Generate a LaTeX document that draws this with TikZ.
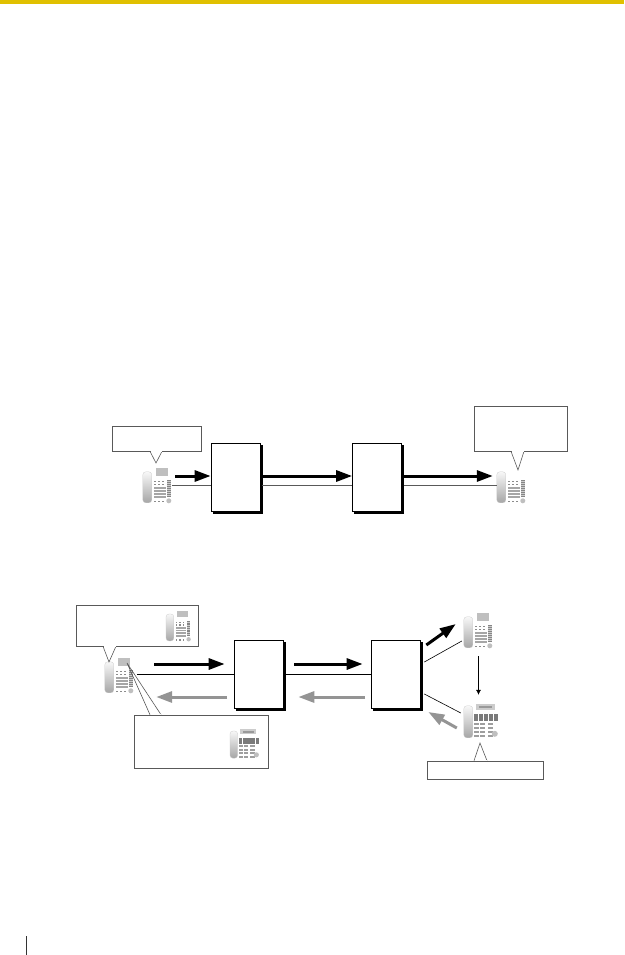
\documentclass[tikz,border=0pt]{standalone}
\usepackage{tikz}
\usetikzlibrary{arrows.meta,shadows}

\definecolor{topbar}{RGB}{224,192,0}

\tikzset{
    exchange/.style={draw=black, fill=white, line width=.7pt, minimum width=49pt, minimum height=68pt,
        inner sep=0pt, copy shadow={shadow xshift=2pt, shadow yshift=-2pt, fill=black, draw=black}},
    bubble/.style={draw=black!65, fill=white, line width=.6pt, inner sep=0pt},
    tail/.style={draw=black!65, line width=.6pt},
    phonespot/.style={inner sep=0pt, minimum width=29pt, minimum height=31pt},
    wire/.style={draw=black!65, line width=1pt},
    thinwire/.style={draw=black, line width=.6pt},
    sendarrow/.style={-{Triangle[length=16pt,width=11pt]}, line width=3pt, black},
    backarrow/.style={-{Triangle[length=16pt,width=11pt]}, line width=3pt, black!42},
    phonebase/.pic={
        \draw[draw=black!20, top color=black!3, bottom color=black!35, rounded corners=3pt, line width=.3pt] (0,0) rectangle (9,31);
        \foreach \row in {9,12,29}
            \foreach \col in {11,15,19}
                \fill[black!45] (\col,\row) rectangle ++(2.2,1.5);
        \foreach \row in {15,18,21,24}
            \foreach \col in {11,15.2,19.4}
                \fill[black!35] (\col,\row) rectangle ++(3.8,2);
        \fill[black!20] (24,8) rectangle (28,25);
        \foreach \row in {8,10,...,24}
            \fill[black!48] (24,\row) rectangle ++(4,1.2);
        \fill[black!25] (26,29) circle (2.5);
    },
    phonescreen/.pic={
        \fill[black!25] (13,-4) rectangle (25,4);
    },
    bigphone/.pic={
        \draw[draw=black!20, top color=black!3, bottom color=black!35, rounded corners=3pt, line width=.3pt] (0,0) rectangle (9,32);
        \fill[black!20] (12,-2) rectangle (31,4);
        \fill[black!40] (15,0) rectangle (28,2);
        \foreach \col in {10,15,...,30}
            \fill[black!52] (\col,8) rectangle ++(4.5,7);
        \foreach \row in {17,21,25,29}
            \foreach \col in {10,16,24}
                \fill[black!38] (\col,\row) rectangle ++(5.4,2.2);
        \fill[black!25] (31,28) circle (3);
    }
}

\begin{document}
\begin{tikzpicture}[x=1pt,y=-1pt]
\useasboundingbox (0,0) rectangle (624,955);
\fill[topbar] (0,0) rectangle (624,4);
\draw[black!80, line width=.8pt] (26,936) -- (26,955);

% upper diagram
\node[exchange] (boxA) at (235.5,477) {};
\node[exchange] (boxB) at (377,477) {};
\node[phonespot] (phoneA) at (157.5,487.5) {};
\node[phonespot] (phoneB) at (511.5,487.5) {};
\pic at (phoneA.north west) {phonebase};
\pic at (phoneA.north west) {phonescreen};
\pic at (phoneB.north west) {phonebase};

\draw[wire] ([yshift=2.5pt]phoneA.east) -- ([yshift=-8pt]boxA.west);
\draw[wire] ([xshift=2pt,yshift=-8pt]boxA.east) -- ([yshift=-8pt]boxB.west);
\draw[wire] ([xshift=2pt,yshift=-8pt]boxB.east) -- ([yshift=2.5pt]phoneB.west);

\coordinate (sendA) at (175,476);
\draw[sendarrow] (sendA) -- ([yshift=1pt]boxA.west);
\draw[sendarrow] ([xshift=2pt,yshift=1pt]boxA.east) -- ([yshift=1pt]boxB.west);
\draw[sendarrow] ([xshift=2pt,yshift=1pt]boxB.east) -- ([xshift=-4pt,yshift=11.5pt]phoneB.west);

\node[bubble, minimum width=89pt, minimum height=25pt] (bubA) at (156.5,438.5) {};
\coordinate (tipA) at (156,463);
\draw[tail] ([xshift=-6.5pt]bubA.south) -- (tipA) -- ([xshift=5.5pt]bubA.south);
\draw[white, line width=.9pt] ([xshift=-6pt]bubA.south) -- ([xshift=5pt]bubA.south);

\node[bubble, minimum width=93pt, minimum height=45pt] (bubB) at (520.5,428.5) {};
\coordinate (tipB) at (518,470);
\draw[tail] ([xshift=-9.5pt]bubB.south) -- (tipB) -- ([xshift=3.5pt]bubB.south);
\draw[white, line width=.9pt] ([xshift=-9pt]bubB.south) -- ([xshift=3pt]bubB.south);

% lower diagram
\node[exchange] (boxC) at (259,674) {};
\node[exchange] (boxD) at (395.5,674) {};
\node[phonespot] (phoneC) at (119.5,677.5) {};
\node[phonespot] (phoneE) at (478.5,632.5) {};
\node[phonespot, minimum width=35pt, minimum height=32pt] (phoneF) at (481.5,722) {};
\pic at (phoneC.north west) {phonebase};
\pic at (phoneC.north west) {phonescreen};
\pic at (phoneE.north west) {phonebase};
\pic at (phoneE.north west) {phonescreen};
\pic at (phoneF.north west) {bigphone};

\draw[thinwire] ([xshift=3pt,yshift=3.5pt]phoneC.east) -- (boxC.west);
\draw[thinwire] ([xshift=2pt]boxC.east) -- (boxD.west);
\draw[thinwire] ([xshift=4pt,yshift=12pt]boxD.east) -- ([xshift=-2pt,yshift=-8.5pt]phoneE.west);
\draw[thinwire] ([xshift=4pt,yshift=-20pt]boxD.east) -- ([xshift=-3pt,yshift=9pt]phoneF.west);
\draw[-{Latex[length=5pt,width=5pt]}, line width=.6pt] ([yshift=-8pt]phoneE.south) -- ([yshift=11pt]phoneE.south |- phoneF.north);

\coordinate (sendC) at (154,664);
\coordinate (sendD) at (294,664);
\coordinate (backC) at (227,697);
\coordinate (backD) at (365,697);
\draw[sendarrow] (sendC) -- ([xshift=-9.5pt,yshift=10pt]boxC.west);
\draw[sendarrow] (sendD) -- ([xshift=-8pt,yshift=10pt]boxD.west);
\draw[sendarrow] ([xshift=6pt,yshift=29pt]boxD.east) -- ([xshift=-8pt,yshift=8.5pt]phoneE.west);
\draw[backarrow] (backC) -- ([xshift=22pt,yshift=-19.5pt]phoneC.east);
\draw[backarrow] (backD) -- ([xshift=14.5pt,yshift=-23pt]boxC.east);
\draw[backarrow] ([xshift=-7pt,yshift=-6pt]phoneF.west) -- ([xshift=8pt,yshift=-38pt]boxD.east);

\node[bubble, minimum width=122pt, minimum height=41pt] (bubC) at (137,625.5) {};
\coordinate (tipC) at (109,662);
\draw[tail] ([xshift=-34pt]bubC.south) -- (tipC) -- ([xshift=-21pt]bubC.south);
\draw[white, line width=.9pt] ([xshift=-33.5pt]bubC.south) -- ([xshift=-21.5pt]bubC.south);
\pic[scale=.87] at (166,614) {phonebase};
\pic[scale=.87] at (166,614) {phonescreen};

\node[bubble, minimum width=134pt, minimum height=53pt] (bubD) at (201,741.5) {};
\coordinate (tipD) at (127,663);
\draw[tail] ([xshift=-51pt]bubD.north) -- (tipD) -- ([xshift=-40pt]bubD.north);
\draw[white, line width=.9pt] ([xshift=-50.5pt]bubD.north) -- ([xshift=-40.5pt]bubD.north);
\pic[scale=.85] at (230,731) {bigphone};

\node[bubble, minimum width=116pt, minimum height=18pt] (bubE) at (485,770) {};
\coordinate (tipE) at (480,743);
\draw[tail] ([xshift=-11pt]bubE.north) -- (tipE) -- ([xshift=2pt]bubE.north);
\draw[white, line width=.9pt] ([xshift=-10.5pt]bubE.north) -- ([xshift=1.5pt]bubE.north);
\end{tikzpicture}
\end{document}
